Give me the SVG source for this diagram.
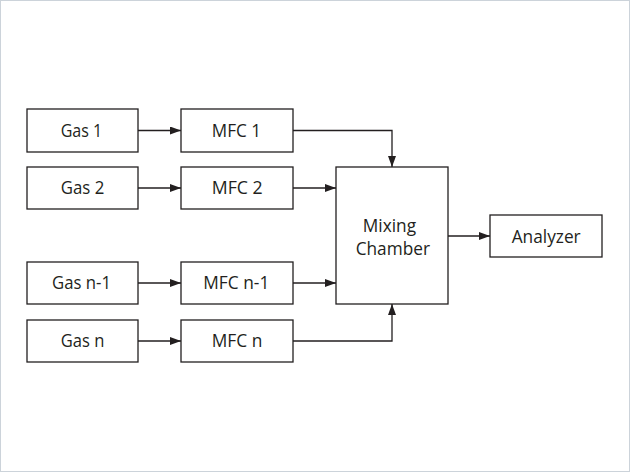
<svg xmlns="http://www.w3.org/2000/svg" width="630" height="472" viewBox="0 0 630 472">
<defs>
<marker id="arr" markerWidth="11" markerHeight="8" refX="11" refY="4" orient="auto" markerUnits="userSpaceOnUse">
<path d="M0,0 L11,4 L0,8 Z" fill="#231f20"/>
</marker>
</defs>
<style>
.box{fill:#fff;stroke:#231f20;stroke-width:1.3}
.lbl{font-family:"Open Sans","Noto Sans",sans-serif;font-size:18.5px;fill:#231f20;text-anchor:middle}
.con{fill:none;stroke:#231f20;stroke-width:1.3;marker-end:url(#arr)}
</style>
<rect x="0.5" y="0.5" width="629" height="471" fill="#fff" stroke="#ccd3da" stroke-width="1"/>
<g id="gas1"><rect class="box" x="27" y="109" width="111" height="43"/><text class="lbl" x="81.5" y="136.7" textLength="41.6" lengthAdjust="spacingAndGlyphs">Gas 1</text></g>
<g id="gas2"><rect class="box" x="27" y="167" width="111" height="42"/><text class="lbl" x="82.5" y="194.3" textLength="43.6" lengthAdjust="spacingAndGlyphs">Gas 2</text></g>
<g id="gasn1"><rect class="box" x="27" y="262" width="111" height="42"/><text class="lbl" x="81.5" y="288.5" textLength="59" lengthAdjust="spacingAndGlyphs">Gas n-1</text></g>
<g id="gasn"><rect class="box" x="27" y="320" width="111" height="42"/><text class="lbl" x="82.5" y="346.7" textLength="43.6" lengthAdjust="spacingAndGlyphs">Gas n</text></g>
<g id="mfc1"><rect class="box" x="181" y="109" width="112" height="43"/><text class="lbl" x="236.4" y="136.7" textLength="49.3" lengthAdjust="spacingAndGlyphs">MFC 1</text></g>
<g id="mfc2"><rect class="box" x="181" y="167" width="112" height="42"/><text class="lbl" x="237.2" y="194.3" textLength="51" lengthAdjust="spacingAndGlyphs">MFC 2</text></g>
<g id="mfcn1"><rect class="box" x="181" y="262" width="112" height="42"/><text class="lbl" x="236.3" y="288.5" textLength="66" lengthAdjust="spacingAndGlyphs">MFC n-1</text></g>
<g id="mfcn"><rect class="box" x="181" y="320" width="112" height="42"/><text class="lbl" x="237" y="346.7" textLength="50.6" lengthAdjust="spacingAndGlyphs">MFC n</text></g>
<g id="mixing"><rect class="box" x="336" y="167" width="112" height="137"/><text class="lbl" x="389.4" y="231.7" textLength="53.3" lengthAdjust="spacingAndGlyphs">Mixing</text><text class="lbl" x="392.8" y="255" textLength="74.3" lengthAdjust="spacingAndGlyphs">Chamber</text></g>
<g id="analyzer"><rect class="box" x="490" y="215" width="112" height="42"/><text class="lbl" x="546.2" y="242.7" textLength="69" lengthAdjust="spacingAndGlyphs">Analyzer</text></g>
<g id="connectors">
<line class="con" x1="138" y1="130.5" x2="181" y2="130.5"/>
<line class="con" x1="138" y1="188" x2="181" y2="188"/>
<line class="con" x1="138" y1="283" x2="181" y2="283"/>
<line class="con" x1="138" y1="341" x2="181" y2="341"/>
<polyline class="con" points="293,130.5 392,130.5 392,167"/>
<line class="con" x1="293" y1="188" x2="336" y2="188"/>
<line class="con" x1="293" y1="283" x2="336" y2="283"/>
<polyline class="con" points="293,341 392,341 392,304"/>
<line class="con" x1="448" y1="236" x2="490" y2="236"/>
</g>
</svg>
